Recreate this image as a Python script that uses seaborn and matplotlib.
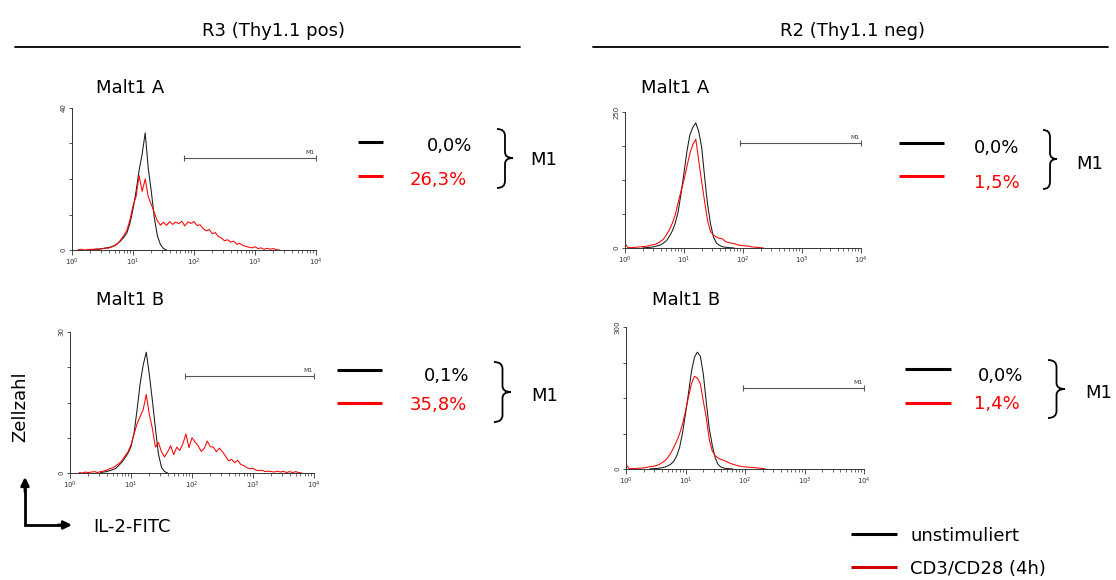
import numpy as np
import pandas as pd
import matplotlib
matplotlib.use("Agg")
import matplotlib.pyplot as plt
import seaborn as sns
from matplotlib.path import Path
from matplotlib.patches import PathPatch

# ---------------- data (histogram counts per channel, channel step = 0.05 decade) -------------
STEP = 0.05
X_TICKS = [1, 10, 100, 1000, 10000]
X_TICK_LABELS = ["$10^0$", "$10^1$", "$10^2$", "$10^3$", "$10^4$"]

# Panel 1: R3 (Thy1.1 pos) – Malt1 A
P1_BLACK_START = 0.30
P1_BLACK = [0.1, 0.2, 0.2, 0.3, 0.4, 0.5, 0.7, 0.9, 1.3, 1.9, 2.6, 3.6, 4.8, 7.5, 11.5, 16.5,
            22.5, 27, 33, 23, 16.5, 9, 4, 1.5, 0.4, 0.0]
P1_RED_START = 0.10
P1_RED = [0.1, 0.2, 0.0, 0.1, 0.2, 0.1, 0.3, 0.2, 0.4, 0.6, 0.5, 0.9, 1.2, 1.8, 2.9, 4.1, 5.6, 8.5,
          12.5, 15.0, 21.0, 16.5, 20.0, 15.0, 12.8, 10.5, 8.2, 7.0, 7.8, 6.9, 8.0, 7.2, 7.9, 7.4,
          8.1, 6.8, 7.9, 7.5, 8.0, 6.9, 7.1, 6.0, 5.4, 5.8, 4.6, 4.9, 3.8, 3.4, 2.6, 2.9, 2.2, 2.5,
          1.6, 1.9, 1.3, 1.0, 0.8, 0.6, 0.9, 0.4, 0.6, 0.2, 0.5, 0.2, 0.4, 0.1, 0.0]
P1_YMAX = 40
P1_M1 = (69, 9999, 25.9)

# Panel 2: R2 (Thy1.1 neg) – Malt1 A
P2_BLACK_START = 0.30
P2_BLACK = [0.3, 0.5, 1, 1.5, 2.5, 4, 5.5, 9, 13, 21, 31, 45, 66, 100, 138, 178, 208, 222, 230,
            214, 185, 130, 80, 44, 20, 9, 5, 2.5, 1.5, 0.8, 0.4, 0]
P2_RED_START = 0.00
P2_RED = [8, 1, 0.5, 1, 1.5, 2, 2.5, 3, 4, 5.5, 6.5, 8.5, 12, 16, 24, 33, 45, 60, 83, 105, 125,
          150, 174, 190, 200, 160, 122, 85, 50, 30, 24, 20, 18, 17, 12, 10, 9, 8, 6, 5, 4.5, 3.5,
          3.5, 2, 1.5, 1, 0.5, 0]
P2_YMAX = 250
P2_M1 = (89, 9999, 193)

# Panel 3: R3 (Thy1.1 pos) – Malt1 B
P3_BLACK_START = 0.50
P3_BLACK = [0.1, 0.2, 0.3, 0.5, 0.7, 1.0, 1.6, 2.3, 3.2, 4.2, 5.6, 8.5, 13.5, 19, 23, 25.7, 21,
            15.5, 9.5, 4, 1.2, 0.3, 0]
P3_RED_START = 0.15
P3_RED = [0.1, 0.0, 0.2, 0.1, 0.2, 0.3, 0.1, 0.3, 0.4, 0.6, 0.9, 1.1, 1.5, 2.0, 2.6, 3.6, 4.5,
          6.0, 8.3, 10.5, 12.0, 13.5, 16.7, 12.5, 9.5, 5.5, 6.5, 4.5, 3.4, 4.5, 5.8, 3.9, 5.5,
          4.8, 6.2, 8.3, 5.4, 7.5, 6.6, 5.8, 4.6, 5.2, 6.8, 5.6, 5.5, 4.5, 5.3, 4.5, 3.6, 2.6,
          2.9, 2.2, 2.7, 1.8, 1.6, 1.1, 0.9, 1.0, 0.6, 0.5, 0.6, 0.3, 0.4, 0.3, 0.2, 0.4, 0.2,
          0.35, 0.1, 0.3, 0.1, 0.3, 0.1, 0.0]
P3_YMAX = 30
P3_M1 = (77, 9999, 20.6)

# Panel 4: R2 (Thy1.1 neg) – Malt1 B
P4_BLACK_START = 0.40
P4_BLACK = [0.3, 0.6, 1, 1.5, 2.5, 4, 6.5, 10, 16, 27, 45, 76, 117, 160, 206, 236, 247, 238, 200,
            140, 85, 50, 23, 9, 4, 2, 1, 0.5, 0]
P4_RED_START = 0.00
P4_RED = [10, 1, 0.7, 1, 1.5, 2, 2.5, 3.5, 5, 5.5, 7, 9, 13, 17, 24, 33, 45, 58, 74, 95, 122, 152,
          180, 196, 192, 180, 143, 108, 62, 38, 28, 23, 20, 18, 15, 12, 10, 8, 6.5, 5, 4.5, 4,
          3.5, 3, 2.5, 1.5, 1, 0]
P4_YMAX = 300
P4_M1 = (92, 9999, 171)

PERCENT_BLACK = ["0,0%", "0,0%", "0,1%", "0,0%"]
PERCENT_RED = ["26,3%", "1,5%", "35,8%", "1,4%"]
PANEL_TITLES = ["Malt1 A", "Malt1 A", "Malt1 B", "Malt1 B"]
GROUP_TITLES = ["R3 (Thy1.1 pos)", "R2 (Thy1.1 neg)"]
LEGEND_LABELS = ["unstimuliert", "CD3/CD28 (4h)"]

# ---------------- figure ----------------
sns.set_style("white")
plt.rcParams["font.family"] = ["DejaVu Sans"]
plt.rcParams["text.color"] = "black"
W, H = 1116, 580
fig = plt.figure(figsize=(W / 100, H / 100), dpi=100)
fig.patch.set_facecolor("white")

BLACK_C = "#1a1a1a"
RED_C = "#ff0000"
AX_C = "#333333"


def px_axes(x0, y0, x1, y1):
    return fig.add_axes([x0 / W, 1 - y1 / H, (x1 - x0) / W, (y1 - y0) / H])


def curve_df(start, counts):
    pos = start + STEP * np.arange(len(counts))
    return pd.DataFrame({"x": 10 ** pos, "count": counts})


def histo_panel(box, black_start, black, red_start, red, ymax, m1):
    ax = px_axes(*box)
    ax.set_xscale("log")
    sns.lineplot(data=curve_df(black_start, black), x="x", y="count", ax=ax,
                 color=BLACK_C, linewidth=0.75, estimator=None)
    sns.lineplot(data=curve_df(red_start, red), x="x", y="count", ax=ax,
                 color=RED_C, linewidth=0.75, estimator=None)
    ax.set_xlim(1, 10000)
    ax.set_ylim(0, ymax)
    ax.set_xlabel("")
    ax.set_ylabel("")
    for s in ["top", "right"]:
        ax.spines[s].set_visible(False)
    for s in ["left", "bottom"]:
        ax.spines[s].set_color(AX_C)
        ax.spines[s].set_linewidth(0.7)
    ax.set_xticks(X_TICKS)
    ax.set_xticklabels(X_TICK_LABELS)
    ax.xaxis.set_minor_locator(matplotlib.ticker.LogLocator(base=10, subs=np.arange(2, 10)))
    ax.xaxis.set_minor_formatter(matplotlib.ticker.NullFormatter())
    ax.tick_params(axis="x", which="major", length=3.5, width=0.6, color=AX_C,
                   labelsize=5, labelcolor=AX_C, pad=1.5, direction="out", bottom=True)
    ax.tick_params(axis="x", which="minor", length=2, width=0.5, color=AX_C,
                   direction="out", bottom=True)
    yt = [0, ymax / 4, ymax / 2, 3 * ymax / 4, ymax]
    ax.set_yticks(yt)
    ax.set_yticklabels([str(0), "", "", "", str(ymax)], rotation=90, va="center")
    ax.tick_params(axis="y", length=2.5, width=0.6, color=AX_C, labelsize=5,
                   labelcolor=AX_C, pad=1.5, direction="out", left=True)
    # M1 marker
    x0, x1, yv = m1
    ax.plot([x0, x1], [yv, yv], color="#555555", lw=0.8, solid_capstyle="butt")
    ax.plot([x0, x1], [yv, yv], linestyle="none", marker="|", markersize=4.5,
            markeredgewidth=0.8, color="#555555")
    ax.annotate("M1", xy=(x1, yv), xytext=(-1, 2), textcoords="offset points",
                ha="right", va="bottom", fontsize=4.5, color="#333333")
    ax.patch.set_alpha(0)
    return ax


histo_panel((72, 108, 316, 250), P1_BLACK_START, P1_BLACK, P1_RED_START, P1_RED, P1_YMAX, P1_M1)
histo_panel((625, 112, 861, 248), P2_BLACK_START, P2_BLACK, P2_RED_START, P2_RED, P2_YMAX, P2_M1)
histo_panel((70, 332, 314, 473), P3_BLACK_START, P3_BLACK, P3_RED_START, P3_RED, P3_YMAX, P3_M1)
histo_panel((626, 327, 864, 469), P4_BLACK_START, P4_BLACK, P4_RED_START, P4_RED, P4_YMAX, P4_M1)

# ---------------- overlay for annotations (pixel coordinates) ----------------
ov = fig.add_axes([0, 0, 1, 1])
ov.set_xlim(0, W)
ov.set_ylim(H, 0)
ov.axis("off")
ov.patch.set_alpha(0)
FS = 13

# group headers
ov.text(273, 36, GROUP_TITLES[0], ha="center", va="baseline", fontsize=FS, color="black")
ov.text(852, 36, GROUP_TITLES[1], ha="center", va="baseline", fontsize=FS, color="black")
ov.plot([15, 520], [47, 47], color="black", lw=1.3)
ov.plot([593, 1108], [47, 47], color="black", lw=1.3)

# panel titles
for (x, y), t in zip([(96, 93), (641, 93), (96, 305), (652, 305)], PANEL_TITLES):
    ov.text(x, y, t, ha="left", va="baseline", fontsize=FS, color="black")

# per-panel legend blocks
blocks = [
    dict(lx=(358, 383), by=142, ry=176, bt=(427, 151), rt=(410, 185),
         br=(497, 513, 129, 158, 188), m1=(530, 165)),
    dict(lx=(899, 944), by=143, ry=176, bt=(974, 153), rt=(974, 188),
         br=(1043, 1057, 130, 159, 189), m1=(1076, 169)),
    dict(lx=(337, 382), by=370, ry=403, bt=(424, 381), rt=(410, 410),
         br=(494, 511, 362, 392, 422), m1=(531, 401)),
    dict(lx=(905, 951), by=369, ry=403, bt=(978, 381), rt=(974, 409),
         br=(1048, 1065, 360, 389, 418), m1=(1085, 398)),
]


def brace(xl, xt, yt, ym, yb):
    xm = xl + 0.5 * (xt - xl)
    verts = [(xl, yt), (xm, yt), (xm, yt + 7), (xm, ym - 6), (xm, ym), (xt, ym),
             (xm, ym), (xm, ym + 6), (xm, yb - 7), (xm, yb), (xl, yb)]
    codes = [Path.MOVETO, Path.CURVE3, Path.CURVE3, Path.LINETO, Path.CURVE3, Path.CURVE3,
             Path.CURVE3, Path.CURVE3, Path.LINETO, Path.CURVE3, Path.CURVE3]
    ov.add_patch(PathPatch(Path(verts, codes), facecolor="none", edgecolor="black", lw=1.3))


for b, pb, pr in zip(blocks, PERCENT_BLACK, PERCENT_RED):
    ov.plot(b["lx"], [b["by"]] * 2, color="black", lw=2.2, solid_capstyle="butt")
    ov.plot(b["lx"], [b["ry"]] * 2, color="#ff0000", lw=2.2, solid_capstyle="butt")
    ov.text(b["bt"][0], b["bt"][1], pb, ha="left", va="baseline", fontsize=FS, color="black")
    ov.text(b["rt"][0], b["rt"][1], pr, ha="left", va="baseline", fontsize=FS, color="#ff0000")
    brace(*b["br"])
    ov.text(b["m1"][0], b["m1"][1], "M1", ha="left", va="baseline", fontsize=FS, color="black")

# axis explanation
ov.text(20, 407, "Zellzahl", rotation=90, ha="center", va="center", fontsize=FS, color="black")
ov.plot([25, 25, 62], [488, 525, 525], color="black", lw=2.0, solid_joinstyle="miter",
        solid_capstyle="butt")
ov.annotate("", xy=(25, 477), xytext=(25, 492),
            arrowprops=dict(arrowstyle="-|>", color="black", lw=2.0, mutation_scale=12,
                            shrinkA=0, shrinkB=0))
ov.annotate("", xy=(72, 525), xytext=(58, 525),
            arrowprops=dict(arrowstyle="-|>", color="black", lw=2.0, mutation_scale=12,
                            shrinkA=0, shrinkB=0))
ov.text(93, 532, "IL-2-FITC", ha="left", va="baseline", fontsize=FS, color="black")

# global legend
ov.plot([851, 897], [534, 534], color="black", lw=2.2, solid_capstyle="butt")
ov.plot([851, 897], [567, 567], color="#cc0000", lw=2.2, solid_capstyle="butt")
ov.text(910, 541, LEGEND_LABELS[0], ha="left", va="baseline", fontsize=FS, color="black")
ov.text(910, 574, LEGEND_LABELS[1], ha="left", va="baseline", fontsize=FS, color="black")

fig.savefig("out.png", dpi=100, facecolor="white")
